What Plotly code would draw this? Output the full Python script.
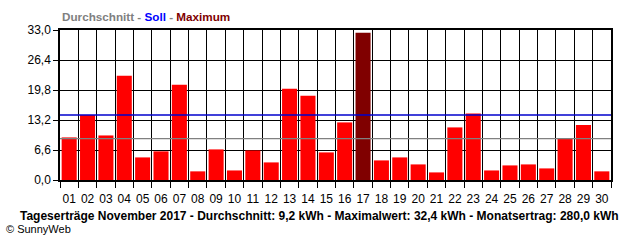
import plotly.graph_objects as go

days = [f"{d:02d}" for d in range(1, 31)]
values = [9.37, 14.3, 9.8, 22.95, 4.97, 6.3, 20.97, 1.9, 6.73, 2.1,
          6.5, 3.87, 20.08, 18.55, 6.07, 12.67, 32.4, 4.31, 4.97, 3.43,
          1.67, 11.57, 14.65, 2.1, 3.21, 3.43, 2.55, 9.02, 12.1, 1.9]
soll = 14.3
durchschnitt = 9.1
y_ticks = [0.0, 6.6, 13.2, 19.8, 26.4, 33.0]
footer = "Tageserträge November 2017 - Durchschnitt: 9,2 kWh - Maximalwert: 32,4 kWh - Monatsertrag: 280,0 kWh"

FONT = "Liberation Sans"
n = len(days)
xpos = list(range(1, n + 1))
vmax = max(values)
colors = ["#800000" if v == vmax else "#FF0000" for v in values]
bounds = [i + 0.5 for i in range(0, n + 1)]

fig = go.Figure()
fig.add_trace(go.Bar(x=xpos, y=values, marker=dict(color=colors, line=dict(width=0)),
                     width=0.82, showlegend=False, hoverinfo="skip"))
fig.add_trace(go.Scatter(x=[bounds[0], bounds[-1]], y=[durchschnitt, durchschnitt], mode="lines",
                         line=dict(color="#808080", width=1.3), showlegend=False))
fig.add_trace(go.Scatter(x=[bounds[0], bounds[-1]], y=[soll, soll], mode="lines",
                         line=dict(color="#0000CC", width=1.3), showlegend=False))
# dummy trace for label axis
fig.add_trace(go.Scatter(x=xpos, y=[None] * n, xaxis="x2", showlegend=False, hoverinfo="skip"))

fig.update_layout(
    width=640, height=240,
    margin=dict(l=60, r=29, t=30, b=60),
    paper_bgcolor="white", plot_bgcolor="white",
    separators=",.",
    font=dict(family=FONT, size=11, color="black"),
    xaxis=dict(range=[bounds[0], bounds[-1]], tickvals=bounds, showticklabels=False,
               ticks="outside", ticklen=6, tickcolor="black", tickwidth=1,
               showgrid=True, gridcolor="black", gridwidth=1.2,
               showline=True, linecolor="black", linewidth=1.5, mirror=True, zeroline=False),
    xaxis2=dict(overlaying="x", matches="x", side="bottom", tickvals=xpos, ticktext=days,
                ticks="outside", ticklen=8, tickcolor="rgba(0,0,0,0)", showgrid=False,
                showline=False, zeroline=False, tickfont=dict(family=FONT, size=12)),
    yaxis=dict(range=[0, 33], tickvals=y_ticks, tickformat=".1f",
               ticks="outside", ticklen=5, tickcolor="black",
               showgrid=True, gridcolor="black", gridwidth=1.2,
               showline=True, linecolor="black", linewidth=1.5, mirror=True, zeroline=False,
               tickfont=dict(family=FONT, size=12)),
    bargap=0.18,
)

fig.add_annotation(xref="paper", yref="paper", x=0, y=1 + 14 / 150, xanchor="left", yanchor="middle",
                   showarrow=False,
                   text="<b><span style='color:#808080'>Durchschnitt</span> <span style='color:#808080'>-</span> "
                        "<span style='color:#0000FF'>Soll</span> <span style='color:#808080'>-</span> "
                        "<span style='color:#800000'>Maximum</span></b>",
                   font=dict(family=FONT, size=11.7))
fig.add_annotation(xref="paper", yref="paper", x=(319.5 - 60) / 551, y=-36 / 150, xanchor="center",
                   yanchor="middle", showarrow=False, text=f"<b>{footer}</b>",
                   font=dict(family=FONT, size=12, color="black"))
fig.add_annotation(xref="paper", yref="paper", x=(4 - 60) / 551, y=-49 / 150, xanchor="left",
                   yanchor="middle", showarrow=False, text="© SunnyWeb",
                   font=dict(family=FONT, size=11, color="black"))

fig.write_html("out.html")
